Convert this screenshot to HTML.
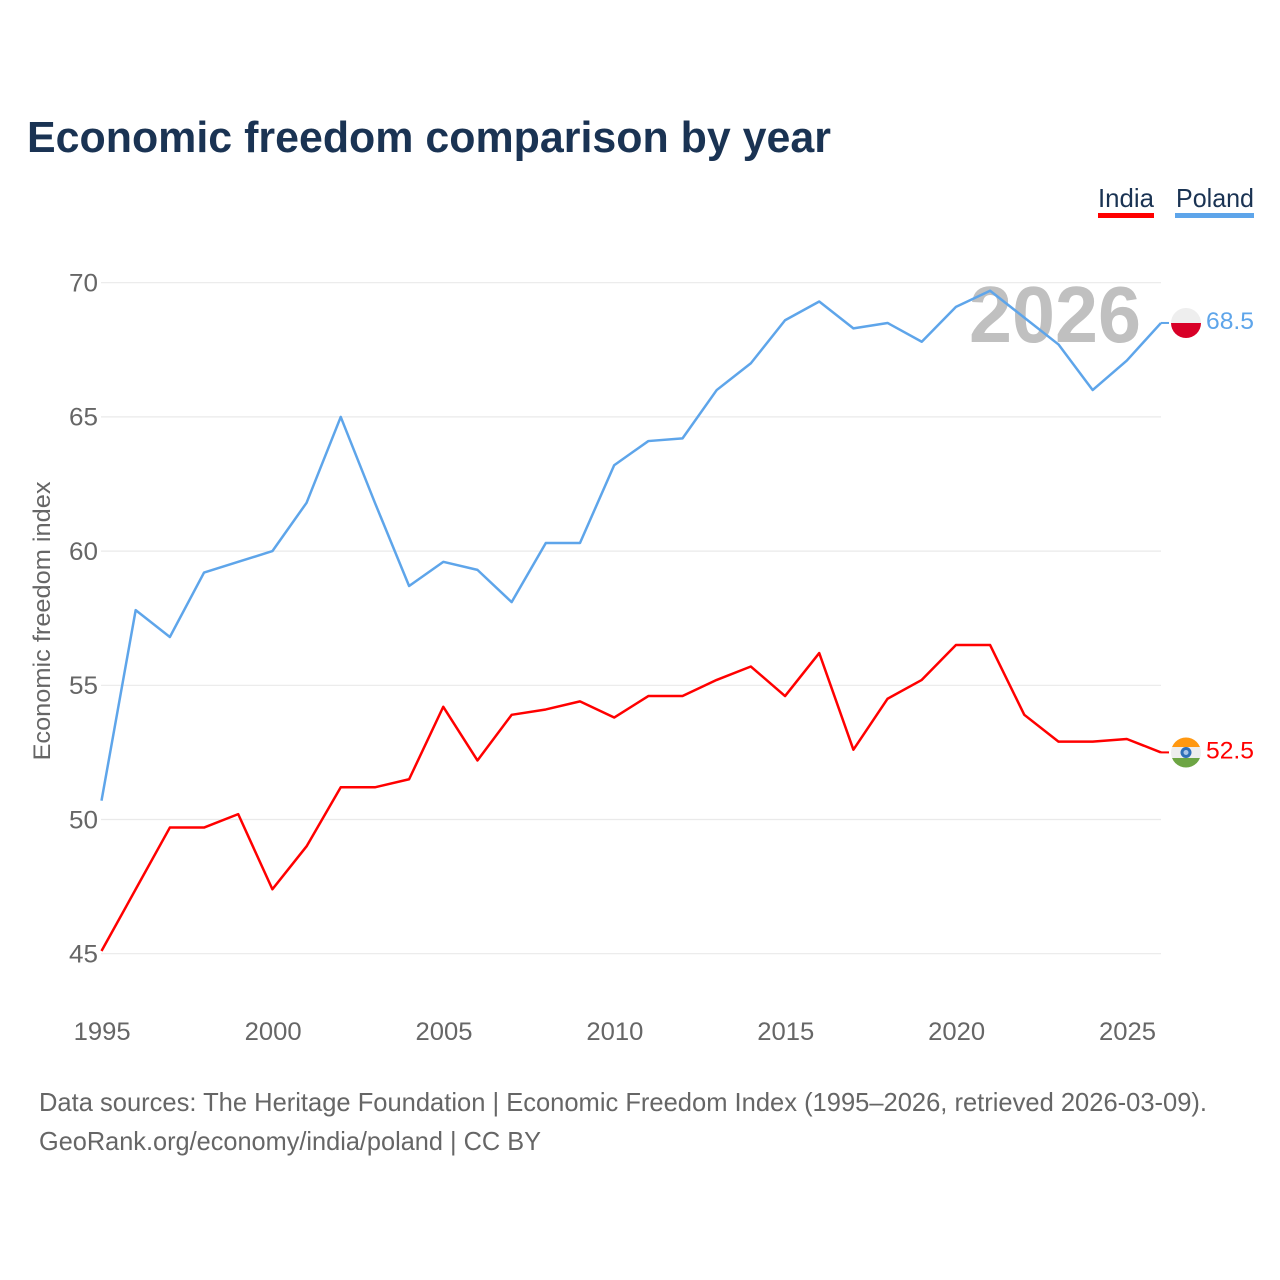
<!DOCTYPE html>
<html lang="en">
<head>
<meta charset="utf-8">
<title>Economic freedom comparison by year</title>
<style>
html,body{margin:0;padding:0;background:#fff}
svg{display:block}
text{font-family:"Liberation Sans",sans-serif}
</style>
</head>
<body>
<svg id="chart" xmlns="http://www.w3.org/2000/svg" width="1280" height="1280" viewBox="0 0 1280 1280">
  <rect x="0" y="0" width="1280" height="1280" fill="#fff"/>
  <text x="27" y="152" font-size="44" font-weight="700" fill="#1a3353" textLength="804" lengthAdjust="spacingAndGlyphs">Economic freedom comparison by year</text>
  <g id="grid"></g>
  <g id="ticks"></g>
  <text x="0" y="0" transform="translate(50,621) rotate(-90)" text-anchor="middle" font-size="24" fill="#666" textLength="279" lengthAdjust="spacingAndGlyphs">Economic freedom index</text>
  <text x="1141" y="342" text-anchor="end" font-size="80" font-weight="700" fill="#c0c0c0" textLength="172" lengthAdjust="spacingAndGlyphs">2026</text>
  <g id="series"></g>
  <g>
    <text x="1098" y="207" font-size="26" fill="#1a3353" textLength="56" lengthAdjust="spacingAndGlyphs">India</text>
    <rect x="1098" y="213" width="56" height="5" fill="#ff0000"/>
  </g>
  <g>
    <text x="1176" y="207" font-size="26" fill="#1a3353" textLength="78" lengthAdjust="spacingAndGlyphs">Poland</text>
    <rect x="1175" y="213" width="79" height="5" fill="#5ea5ea"/>
  </g>
  <g id="flag-poland">
    <clipPath id="clip-pl"><circle cx="1186" cy="323" r="15"/></clipPath>
    <g clip-path="url(#clip-pl)">
      <rect x="1171" y="308" width="30" height="15" fill="#eeeeee"/>
      <rect x="1171" y="323" width="30" height="16" fill="#d80027"/>
    </g>
  </g>
  <g id="flag-india">
    <clipPath id="clip-in"><circle cx="1186" cy="752.500" r="15"/></clipPath>
    <g clip-path="url(#clip-in)">
      <rect x="1171" y="737" width="30" height="10" fill="#ff9811"/>
      <rect x="1171" y="747" width="30" height="11" fill="#eeeeee"/>
      <rect x="1171" y="758" width="30" height="10" fill="#6da544"/>
      <circle cx="1186" cy="752.500" r="5.500" fill="#2f6fb8"/>
      <circle cx="1186" cy="752.500" r="2.500" fill="#a9c4e8"/>
    </g>
  </g>
  <g id="end-labels"></g>
  <text x="39" y="1111" font-size="26" fill="#666" textLength="1168" lengthAdjust="spacingAndGlyphs">Data sources: The Heritage Foundation | Economic Freedom Index (1995–2026, retrieved 2026-03-09).</text>
  <text x="39" y="1150" font-size="26" fill="#666" textLength="502" lengthAdjust="spacingAndGlyphs">GeoRank.org/economy/india/poland | CC BY</text>
</svg>
<script>
const years = [1995,1996,1997,1998,1999,2000,2001,2002,2003,2004,2005,2006,2007,2008,2009,2010,2011,2012,2013,2014,2015,2016,2017,2018,2019,2020,2021,2022,2023,2024,2025,2026];
const indiaValues = [45.1,47.4,49.7,49.7,50.2,47.4,49.0,51.2,51.2,51.5,54.2,52.2,53.9,54.1,54.4,53.8,54.6,54.6,55.2,55.7,54.6,56.2,52.6,54.5,55.2,56.5,56.5,53.9,52.9,52.9,53.0,52.5];
const polandValues = [50.7,57.8,56.8,59.2,59.6,60.0,61.8,65.0,61.8,58.7,59.6,59.3,58.1,60.3,60.3,63.2,64.1,64.2,66.0,67.0,68.6,69.3,68.3,68.5,67.8,69.1,69.7,68.7,67.7,66.0,67.1,68.5];
const yTickValues = [45,50,55,60,65,70];
const xTickValues = [1995,2000,2005,2010,2015,2020,2025];

const NS = 'http://www.w3.org/2000/svg';
const xScale = function (year) { return 101.5 + (year - 1995) * (1161 - 101.5) / 31; };
const yScale = function (value) { return 953.7 - (value - 45) * (953.7 - 282.7) / 25; };

function make(tag, parent, props, content) {
  const el = document.createElementNS(NS, tag);
  Object.keys(props).forEach(function (k) { el.setAttribute(k, props[k]); });
  if (content !== undefined) el.textContent = content;
  parent.appendChild(el);
  return el;
}

const gridGroup = document.getElementById('grid');
const tickGroup = document.getElementById('ticks');
yTickValues.forEach(function (v) {
  const line = make('line', gridGroup, {x1: 101, x2: 1161, y1: yScale(v), y2: yScale(v), stroke: '#eaeaea', 'stroke-width': 1.2});
  
  
  const label = make('text', tickGroup, {x: 98, y: yScale(v) + 8.8, 'text-anchor': 'end', 'font-size': 25, fill: '#666', textLength: 29, lengthAdjust: 'spacingAndGlyphs'}, String(v));
  
  
});
xTickValues.forEach(function (y) {
  const label = make('text', tickGroup, {x: xScale(y) + 0.7, y: 1040, 'text-anchor': 'middle', 'font-size': 25, fill: '#666', textLength: 57, lengthAdjust: 'spacingAndGlyphs'}, String(y));
  
  
});

function pathFor(values) {
  return values.map(function (v, i) {
    return (i === 0 ? 'M' : 'L') + xScale(years[i]).toFixed(2) + ' ' + yScale(v).toFixed(2);
  }).join(' ');
}
const seriesGroup = document.getElementById('series');
const polandLine = make('path', seriesGroup, {d: pathFor(polandValues), fill: 'none', stroke: '#5ea5ea', 'stroke-width': 2.5, 'stroke-linejoin': 'round'});


const indiaLine = make('path', seriesGroup, {d: pathFor(indiaValues), fill: 'none', stroke: '#ff0000', 'stroke-width': 2.5, 'stroke-linejoin': 'round'});



const endGroup = document.getElementById('end-labels');
const lastPoland = polandValues[polandValues.length - 1];
const lastIndia = indiaValues[indiaValues.length - 1];
const polandEnd = make('text', endGroup, {x: 1206, y: yScale(lastPoland) + 6, 'font-size': 24, fill: '#5ea5ea', textLength: 48, lengthAdjust: 'spacingAndGlyphs'}, lastPoland.toFixed(1));


const indiaEnd = make('text', endGroup, {x: 1206, y: yScale(lastIndia) + 6, 'font-size': 24, fill: '#ff0000', textLength: 48, lengthAdjust: 'spacingAndGlyphs'}, lastIndia.toFixed(1));


const polandStub = make('line', endGroup, {x1: xScale(2026), x2: 1169, y1: yScale(lastPoland), y2: yScale(lastPoland), stroke: '#5ea5ea', 'stroke-width': 2});


const indiaStub = make('line', endGroup, {x1: xScale(2026), x2: 1169, y1: yScale(lastIndia), y2: yScale(lastIndia), stroke: '#ff0000', 'stroke-width': 2});


</script>
</body>
</html>
